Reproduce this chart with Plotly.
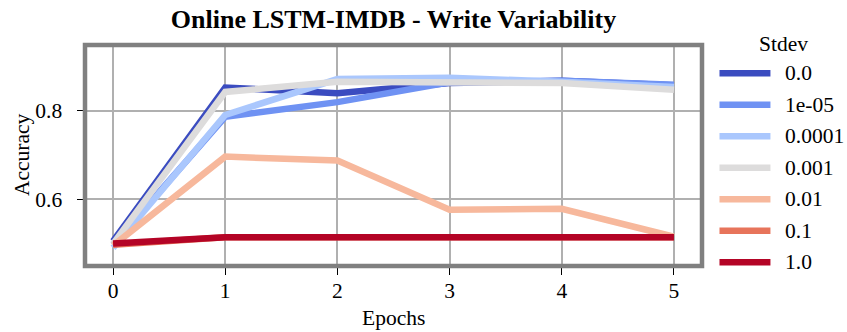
import plotly.graph_objects as go

# Accuracy per epoch for each write-noise standard deviation
epochs = [0, 1, 2, 3, 4, 5]
stdev_labels = ["0.0", "1e-05", "0.0001", "0.001", "0.01", "0.1", "1.0"]
acc_0 = [0.505, 0.852, 0.839, 0.862, 0.867, 0.857]
acc_1e5 = [0.497, 0.786, 0.819, 0.864, 0.867, 0.858]
acc_1e4 = [0.490, 0.790, 0.871, 0.874, 0.865, 0.853]
acc_1e3 = [0.499, 0.842, 0.865, 0.865, 0.862, 0.847]
acc_1e2 = [0.495, 0.696, 0.687, 0.576, 0.578, 0.515]
acc_1e1 = [0.497, 0.514, 0.514, 0.514, 0.514, 0.514]
acc_1e0 = [0.500, 0.514, 0.514, 0.514, 0.514, 0.514]
series = [acc_0, acc_1e5, acc_1e4, acc_1e3, acc_1e2, acc_1e1, acc_1e0]

# coolwarm palette, 7 steps
colors = ["#3b4cc0", "#6f92f3", "#aac7fd", "#dddcdc", "#f7b89c", "#e7745b", "#b40426"]

FONT = "Liberation Serif"
FS = 21.5
W, H = 847, 332
L, R, T, B = 85, 144.5, 45, 66
plot_w = W - L - R
plot_h = H - T - B

fig = go.Figure()
for name, ys, c in zip(stdev_labels, series, colors):
    fig.add_trace(go.Scatter(
        x=epochs, y=ys, mode="lines", name=name,
        line=dict(color=c, width=6.5), showlegend=False,
    ))


def px_to_paper_x(px):
    return (px - L) / plot_w


def px_to_paper_y(py):
    return (H - B - py) / plot_h


shapes = []
annotations = []

# frame around the axes
shapes.append(dict(type="rect", xref="paper", yref="paper", x0=0, x1=1, y0=0, y1=1,
                   line=dict(color="#808080", width=4.5), layer="above"))

# axis titles
annotations.append(dict(text="Epochs", xref="paper", yref="paper",
                        x=0.5, y=px_to_paper_y(318),
                        xanchor="center", yanchor="middle", showarrow=False,
                        font=dict(family=FONT, size=FS, color="black")))
annotations.append(dict(text="Accuracy", xref="paper", yref="paper",
                        x=px_to_paper_x(22), y=px_to_paper_y(155), textangle=-90,
                        xanchor="center", yanchor="middle", showarrow=False,
                        font=dict(family=FONT, size=FS, color="black")))

# legend, drawn beside the axes
annotations.append(dict(text="Stdev", xref="paper", yref="paper",
                        x=px_to_paper_x(784), y=px_to_paper_y(44),
                        xanchor="center", yanchor="middle", showarrow=False,
                        font=dict(family=FONT, size=FS, color="black")))
first_y, step = 73.3, 31.5
for i, (name, c) in enumerate(zip(stdev_labels, colors)):
    yc = px_to_paper_y(first_y + i * step)
    shapes.append(dict(type="line", xref="paper", yref="paper",
                       x0=px_to_paper_x(720), x1=px_to_paper_x(771), y0=yc, y1=yc,
                       line=dict(color=c, width=6.5)))
    annotations.append(dict(text=name, xref="paper", yref="paper",
                            x=px_to_paper_x(784), y=yc,
                            xanchor="left", yanchor="middle", showarrow=False,
                            font=dict(family=FONT, size=FS, color="black")))

fig.update_layout(
    width=W, height=H,
    margin=dict(l=L, r=R, t=T, b=B, pad=0, autoexpand=False),
    paper_bgcolor="white", plot_bgcolor="white",
    font=dict(family=FONT, size=FS, color="black"),
    title=dict(text="<b>Online LSTM-IMDB - Write Variability</b>",
               font=dict(family=FONT, size=26, color="black"),
               x=0.5, xref="paper", xanchor="center",
               y=1 - 19 / H, yref="container", yanchor="middle"),
    shapes=shapes,
    annotations=annotations,
    showlegend=False,
)

fig.update_xaxes(
    range=[-0.25, 5.25], tickmode="array", tickvals=epochs,
    ticktext=[str(e) for e in epochs], automargin=False,
    showgrid=True, gridcolor="#b0b0b0", gridwidth=1.5,
    zeroline=False, showline=False,
    ticks="outside", ticklen=7.5, tickwidth=1.3, tickcolor="black",
    tickfont=dict(family=FONT, size=FS, color="black"),
    ticklabelstandoff=-2,
)
fig.update_yaxes(
    range=[0.449, 0.948], tickmode="array", tickvals=[0.6, 0.8],
    ticktext=["0.6", "0.8"], automargin=False,
    showgrid=True, gridcolor="#b0b0b0", gridwidth=1.5,
    zeroline=False, showline=False,
    ticks="outside", ticklen=7.5, tickwidth=1.3, tickcolor="black",
    tickfont=dict(family=FONT, size=FS, color="black"),
    ticklabelstandoff=10,
)

fig.write_html("out.html")
